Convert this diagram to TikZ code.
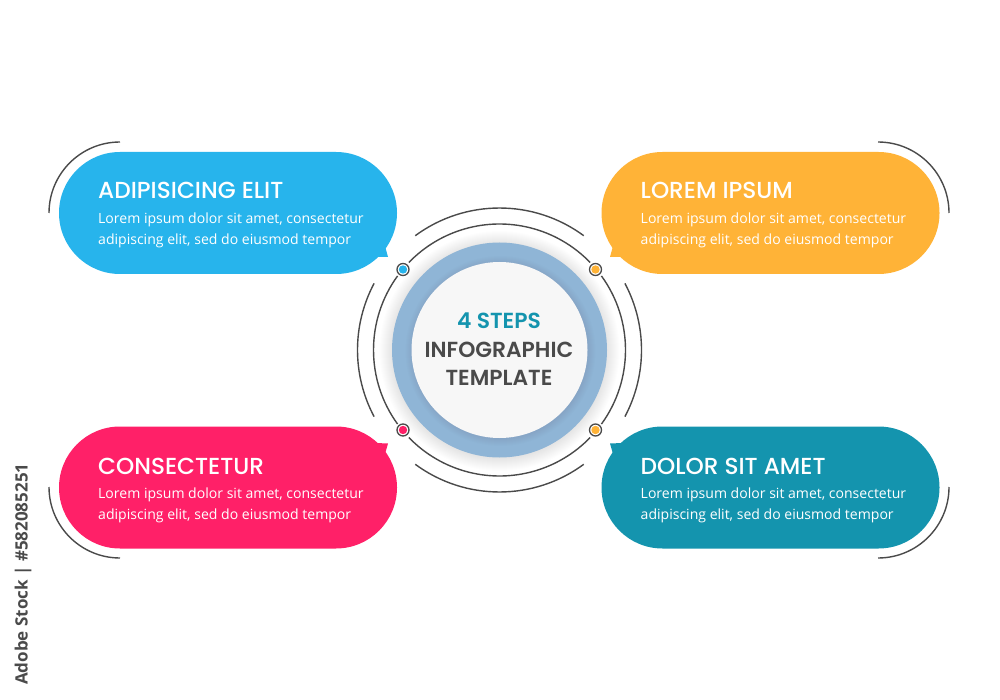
\documentclass[tikz,border=0pt]{standalone}
\usepackage{fontspec}
\usetikzlibrary{positioning, shapes.misc}
\setmainfont{Open Sans}
\newfontfamily\headfont{Poppins Medium}
\newfontfamily\hubfont{Poppins SemiBold}
\definecolor{stepblue}{HTML}{27B4EC}
\definecolor{steporange}{HTML}{FFB337}
\definecolor{steppink}{HTML}{FF2068}
\definecolor{stepteal}{HTML}{1494AE}
\definecolor{ringblue}{HTML}{8FB5D6}
\definecolor{linegrey}{HTML}{4A4A4A}
\begin{document}
\begin{tikzpicture}[x=1pt, y=-1pt, node distance={152.5pt and 204.5pt},
    bubble/.style = {rounded rectangle, minimum width=338pt, minimum height=122pt, inner sep=0pt, outer sep=0pt},
    title/.style = {anchor=base west, text=white, inner sep=0pt, font=\headfont\fontsize{23.2}{25}\selectfont},
    body/.style = {anchor=north west, text=white, inner sep=0pt, align=left, font=\fontsize{14.05}{21}\selectfont},
    center/.style = {inner sep=0pt, font=\hubfont\fontsize{21.8}{25}\selectfont},
    line/.style = {draw=linegrey, line width=1.4pt},
    dot/.style = {circle, draw=linegrey, fill=white, line width=1.3pt, minimum size=12pt, inner sep=0pt}]
    \useasboundingbox (0,0) rectangle (1000,700);
    \fill[white] (0,0) rectangle (1000,700);
    % bubbles
    \node[bubble, fill=stepblue] (blue) at (228,213) {};
    \node[bubble, fill=steporange, right=of blue] (orange) {};
    \node[bubble, fill=steppink, below=of blue] (pink) {};
    \node[bubble, fill=stepteal, below=of orange] (teal) {};
    \fill[stepblue] (376,257) -- (388,257) -- (385,246) -- cycle;
    \fill[steporange] (622,257) -- (610,257) -- (613,246) -- cycle;
    \fill[steppink] (376,443) -- (388,443.5) -- (385,454) -- cycle;
    \fill[stepteal] (622,443) -- (610,443.5) -- (613,454) -- cycle;
    % arcs round the bubbles
    \draw[line] (49,213) arc (180:270:71);
    \draw[line] (878,142) arc (-90:0:71);
    \draw[line] (49,487) arc (180:90:71);
    \draw[line] (949,487) arc (0:90:71);
    % texts
    \node[title] (blueT) at (98,199) {ADIPISICING ELIT};
    \node[body] (blueB) at (98,213) {Lorem ipsum dolor sit amet, consectetur\\adipiscing elit, sed do eiusmod tempor};
    \node[title] (orangeT) at (640.5,199) {LOREM IPSUM};
    \node[body] (orangeB) at (640.5,213) {Lorem ipsum dolor sit amet, consectetur\\adipiscing elit, sed do eiusmod tempor};
    \node[title] (pinkT) at (98,474) {CONSECTETUR};
    \node[body] (pinkB) at (98,488) {Lorem ipsum dolor sit amet, consectetur\\adipiscing elit, sed do eiusmod tempor};
    \node[title] (tealT) at (640.5,474) {DOLOR SIT AMET};
    \node[body] (tealB) at (640.5,488) {Lorem ipsum dolor sit amet, consectetur\\adipiscing elit, sed do eiusmod tempor};
    % ring with its shadow
    \foreach \r in {108,109,...,120} {
        \fill[black, opacity=0.007] (499.5,351) circle (\r);
    }
    \fill[ringblue] (499.5,350) circle (107.5);
    \foreach \r in {88,89,...,95} {
        \fill[black!60!ringblue, opacity=0.012] (500.5,351) circle (\r);
    }
    \node[circle, fill=white!97!black, minimum size=176pt, inner sep=0pt] (hub) at (499.5,350) {};
    % arcs round the ring
    \foreach \a/\b in {233.6/306.4, 152/208, -28/28, 53.6/126.4} {
        \draw[line] (499.5,350) ++(\a:142) arc (\a:\b:142);
    }
    \foreach \a/\b in {44/136, 144/216, 224/316, -36/36} {
        \draw[line] (499.5,350) ++(\a:126) arc (\a:\b:126);
    }
    \node[dot] (dotblue) at (403,269.5) {};
    \node[dot] (dotorange) at (595.5,269.5) {};
    \node[dot] (dotpink) at (403,430) {};
    \node[dot] (dotteal) at (595.5,430) {};
    \fill[stepblue] (dotblue) circle (4.2);
    \fill[steporange] (dotorange) circle (4.2);
    \fill[steppink] (dotpink) circle (4.2);
    \fill[steporange] (dotteal) circle (4.2);
    % center text
    \node[center, text=stepteal] (steps) at (499,320.5) {4 STEPS};
    \node[center, text=linegrey] (info) at (499,349.5) {INFOGRAPHIC};
    \node[center, text=linegrey] (templ) at (499,377.5) {TEMPLATE};
    \node[rotate=90, anchor=west, inner sep=0pt, text=linegrey, font=\bfseries\fontsize{17}{20}\selectfont] (stock) at (23,685) {Adobe Stock | \#582085251};
\end{tikzpicture}
\end{document}
